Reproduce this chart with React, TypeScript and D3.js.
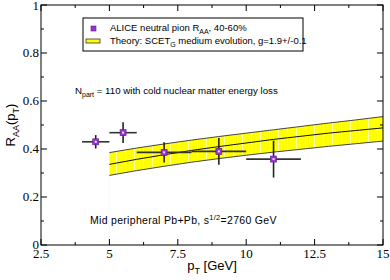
import * as d3 from "d3";

// data points (ALICE pi0, 40-60%)
const ptData = [4.5, 5.5, 7, 9, 11];
const raaData = [0.43, 0.468, 0.386, 0.39, 0.358];
const ptErr = [0.5, 0.5, 1, 1, 1];
const raaErr = [0.028, 0.043, 0.042, 0.056, 0.077];

// theory band (SCET_G)
const thPt = [5, 6, 7, 8, 9, 10, 11, 12, 13, 14, 15];
const thUpper = [0.385, 0.404, 0.421, 0.437, 0.452, 0.466, 0.48, 0.494, 0.508, 0.521, 0.535];
const thCenter = [0.336, 0.357, 0.376, 0.394, 0.41, 0.425, 0.44, 0.453, 0.466, 0.477, 0.488];
const thLower = [0.29, 0.31, 0.328, 0.345, 0.36, 0.374, 0.387, 0.399, 0.411, 0.422, 0.433];

const xTicks = [2.5, 5, 7.5, 10, 12.5, 15];
const yTicks = [0, 0.2, 0.4, 0.6, 0.8, 1];

const W = 390;
const H = 280;
const m = { left: 41, right: 7, top: 5, bottom: 35 };
const serif = "'Liberation Serif', 'DejaVu Serif', serif";
const sans = "'Liberation Sans', Arial, sans-serif";

export default function App() {
  const x = d3.scaleLinear().domain([2.5, 15]).range([m.left, W - m.right]);
  const y = d3.scaleLinear().domain([0, 1]).range([H - m.bottom, m.top]);

  const area = d3
    .area<number>()
    .x((_, i) => x(thPt[i]))
    .y0((_, i) => y(thLower[i]))
    .y1((d) => y(d));
  const line = d3
    .line<number>()
    .x((_, i) => x(thPt[i]))
    .y((d) => y(d));

  const xMinor = d3.range(2.5, 15.01, 1.25);
  const yMinor = d3.range(0, 1.001, 0.1);
  const x0 = m.left, x1 = W - m.right, y0 = H - m.bottom, y1 = m.top;

  return (
    <svg width={W} height={H} style={{ position: "absolute", left: 0, top: 0, background: "white" }}>
      <defs>
        <pattern id="hatch" width="9" height="10" patternUnits="userSpaceOnUse">
          <rect width="9" height="10" fill="#ffff00" />
          <line x1="8.5" y1="0" x2="8.5" y2="10" stroke="#ffffa8" strokeWidth="1" />
        </pattern>
      </defs>

      {/* theory band */}
      <line x1={x(5)} x2={x(5)} y1={y(thLower[0])} y2={y(0)} stroke="#ffffcc" strokeWidth={1} />
      <path d={area(thUpper) ?? ""} fill="url(#hatch)" />
      <path d={line(thUpper) ?? ""} fill="none" stroke="#444" strokeWidth={1} />
      <path d={line(thLower) ?? ""} fill="none" stroke="#444" strokeWidth={1} />
      <path d={line(thCenter) ?? ""} fill="none" stroke="#111" strokeWidth={1} />

      {/* data points */}
      {ptData.map((p, i) => (
        <g key={p}>
          <line x1={x(p - ptErr[i])} x2={x(p + ptErr[i])} y1={y(raaData[i])} y2={y(raaData[i])} stroke="#333" strokeWidth={1.6} />
          <line x1={x(p)} x2={x(p)} y1={y(raaData[i] - raaErr[i])} y2={y(raaData[i] + raaErr[i])} stroke="#222" strokeWidth={1.6} />
          <rect x={x(p) - 3} y={y(raaData[i]) - 3} width={6} height={6} fill="#9a2fd8" stroke="#5b1f80" strokeWidth={0.6} />
          <rect x={x(p) - 1} y={y(raaData[i]) - 1} width={2} height={2} fill="#f0e0ff" />
        </g>
      ))}

      {/* frame */}
      <rect x={x0} y={y1} width={x1 - x0} height={y0 - y1} fill="none" stroke="#000" strokeWidth={1} />
      {xMinor.map((t, i) => {
        const len = i % 2 === 0 ? 6 : 3;
        return (
          <g key={"xt" + t}>
            <line x1={x(t)} x2={x(t)} y1={y0} y2={y0 - len} stroke="#000" />
            <line x1={x(t)} x2={x(t)} y1={y1} y2={y1 + len} stroke="#000" />
          </g>
        );
      })}
      {yMinor.map((t, i) => {
        const len = i % 2 === 0 ? 6 : 3;
        return (
          <g key={"yt" + i}>
            <line x1={x0} x2={x0 + len} y1={y(t)} y2={y(t)} stroke="#000" />
            <line x1={x1} x2={x1 - len} y1={y(t)} y2={y(t)} stroke="#000" />
          </g>
        );
      })}
      {xTicks.map((t) => (
        <text key={"xl" + t} x={x(t)} y={y0 + 13} textAnchor="middle" fontFamily={serif} fontSize={13}>
          {String(t)}
        </text>
      ))}
      {yTicks.map((t) => (
        <text key={"yl" + t} x={x0 - 2} y={y(t) + (t === 1 ? 5 : 4)} textAnchor="end" fontFamily={serif} fontSize={13}>
          {String(t)}
        </text>
      ))}

      {/* axis titles */}
      <text x={(x0 + x1) / 2} y={270} textAnchor="middle" fontFamily={sans} fontSize={13}>
        p<tspan fontSize={9} dy={4}>T</tspan>
        <tspan dy={-4}> [GeV]</tspan>
      </text>
      <text transform={`translate(15,${(y0 + y1) / 2}) rotate(-90)`} textAnchor="middle" fontFamily={sans} fontSize={13}>
        R<tspan fontSize={9} dy={4}>AA</tspan>
        <tspan dy={-4}>(p</tspan>
        <tspan fontSize={9} dy={4}>T</tspan>
        <tspan dy={-4}>)</tspan>
      </text>

      {/* legend */}
      <rect x={83} y={18} width={220} height={33} fill="white" stroke="#000" strokeWidth={1} />
      <rect x={x0 + 50} y={26} width={5} height={5} fill="#9a2fd8" stroke="#5b1f80" strokeWidth={0.6} />
      <text x={110} y={31} fontFamily={sans} fontSize={9.5}>
        ALICE neutral pion R<tspan fontSize={7} dy={2.5}>AA</tspan>
        <tspan dy={-2.5}>, 40-60%</tspan>
      </text>
      <rect x={86} y={39} width={14} height={4} fill="#ffff00" stroke="#333" strokeWidth={0.8} />
      <text x={110} y={44} fontFamily={sans} fontSize={9.5}>
        Theory: SCET<tspan fontSize={7} dy={2.5}>G</tspan>
        <tspan dy={-2.5}> medium evolution, g=1.9+/-0.1</tspan>
      </text>

      {/* annotations */}
      <text x={75} y={94} fontFamily={sans} fontSize={9.7}>
        N<tspan fontSize={7} dy={2.5}>part</tspan>
        <tspan dy={-2.5}> = 110 with cold nuclear matter energy loss</tspan>
      </text>
      <text x={90} y={224} fontFamily={sans} fontSize={10.5} letterSpacing={0.3}>
        Mid peripheral Pb+Pb, s<tspan fontSize={7.5} dy={-4}>1/2</tspan>
        <tspan dy={4}>=2760 GeV</tspan>
      </text>
    </svg>
  );
}
